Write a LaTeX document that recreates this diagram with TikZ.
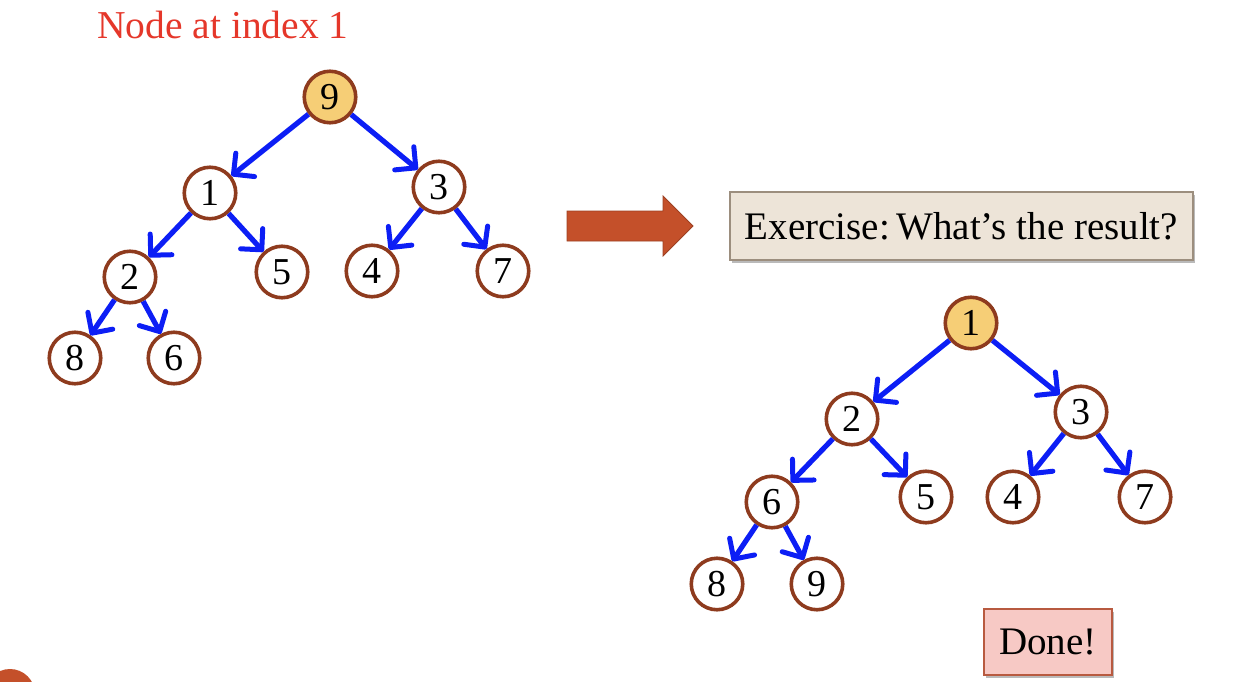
\documentclass[tikz,border=0pt]{standalone}
\usepackage{fontspec}
\setmainfont{Liberation Serif}
\usetikzlibrary{arrows.meta,shadows}
\definecolor{edgeblue}{RGB}{12,30,245}
\definecolor{nodebrown}{RGB}{142,59,30}
\definecolor{rootfill}{RGB}{246,206,118}
\definecolor{titlered}{RGB}{229,55,42}
\definecolor{bigarrow}{RGB}{196,80,42}
\definecolor{exfill}{RGB}{237,228,216}
\definecolor{exdraw}{RGB}{156,142,126}
\definecolor{donefill}{RGB}{247,201,197}
\definecolor{donedraw}{RGB}{184,90,64}
\tikzset{
  hnode/.style={circle, draw=nodebrown, line width=3.6pt, fill=white, minimum size=51.5pt, inner sep=0pt,
    font=\fontsize{38}{42}\selectfont},
  rootnode/.style={hnode, fill=rootfill},
  edge/.style={draw=edgeblue, line width=5.2pt, -{Straight Barb[length=15pt,width=30pt,line width=5pt,round]}},
  notebox/.style={rectangle, line width=1.2pt, inner sep=0pt,
    drop shadow={shadow xshift=2pt, shadow yshift=-3pt, opacity=0.45, fill=black!60},
    font=\fontsize{39}{44}\selectfont},
}
\begin{document}
\begin{tikzpicture}[x=1pt,y=-1pt]
\useasboundingbox (0,0) rectangle (1236,682);
\clip (0,0) rectangle (1236,682);
% title
\node[anchor=base west, inner sep=0pt, text=titlered, font=\fontsize{39.5}{44}\selectfont] (title) at (97,39) {Node at index 1};
% left tree
\node[rootnode] (a9) at (330,97) {9};
\node[hnode] (a1) at (210,193) {1};
\node[hnode] (a3) at (439,187) {3};
\node[hnode] (a2) at (130,277) {2};
\node[hnode] (a5) at (282,272) {5};
\node[hnode] (a4) at (372,271) {4};
\node[hnode] (a7) at (503,271) {7};
\node[hnode] (a8) at (75,358) {8};
\node[hnode] (a6) at (174,358) {6};
\draw[edge] (a9) -- (a1);
\draw[edge] (a9) -- (a3);
\draw[edge] (a1) -- (a2);
\draw[edge] (a1) -- (a5);
\draw[edge] (a3) -- (a4);
\draw[edge] (a3) -- (a7);
\draw[edge] (a2) -- (a8);
\draw[edge] (a2) -- (a6);
% big arrow
\draw[fill=bigarrow, draw=bigarrow!80!black, line width=0.8pt]
  (567,211) -- (663,211) -- (663,196) -- (693,226) -- (663,256) -- (663,241) -- (567,241) -- cycle;
% exercise box
\node[notebox, fill=exfill, draw=exdraw, minimum width=463pt, minimum height=68pt] (ex) at (961.5,226) {Exercise:\,What’s the result?};
% right tree
\node[rootnode] (b1) at (971,323) {1};
\node[hnode] (b2) at (852,419) {2};
\node[hnode] (b3) at (1081,412) {3};
\node[hnode] (b6) at (772,502) {6};
\node[hnode] (b5) at (926,497) {5};
\node[hnode] (b4) at (1013,497) {4};
\node[hnode] (b7) at (1145,497) {7};
\node[hnode] (b8) at (717,584) {8};
\node[hnode] (b9) at (817,584) {9};
\draw[edge] (b1) -- (b2);
\draw[edge] (b1) -- (b3);
\draw[edge] (b2) -- (b6);
\draw[edge] (b2) -- (b5);
\draw[edge] (b3) -- (b4);
\draw[edge] (b3) -- (b7);
\draw[edge] (b6) -- (b8);
\draw[edge] (b6) -- (b9);
% done box
\node[notebox, fill=donefill, draw=donedraw, minimum width=128pt, minimum height=66pt] (done) at (1048,642) {Done!};
% partial circle in corner
\fill[bigarrow] (10,694) circle (25);
\end{tikzpicture}
\end{document}
